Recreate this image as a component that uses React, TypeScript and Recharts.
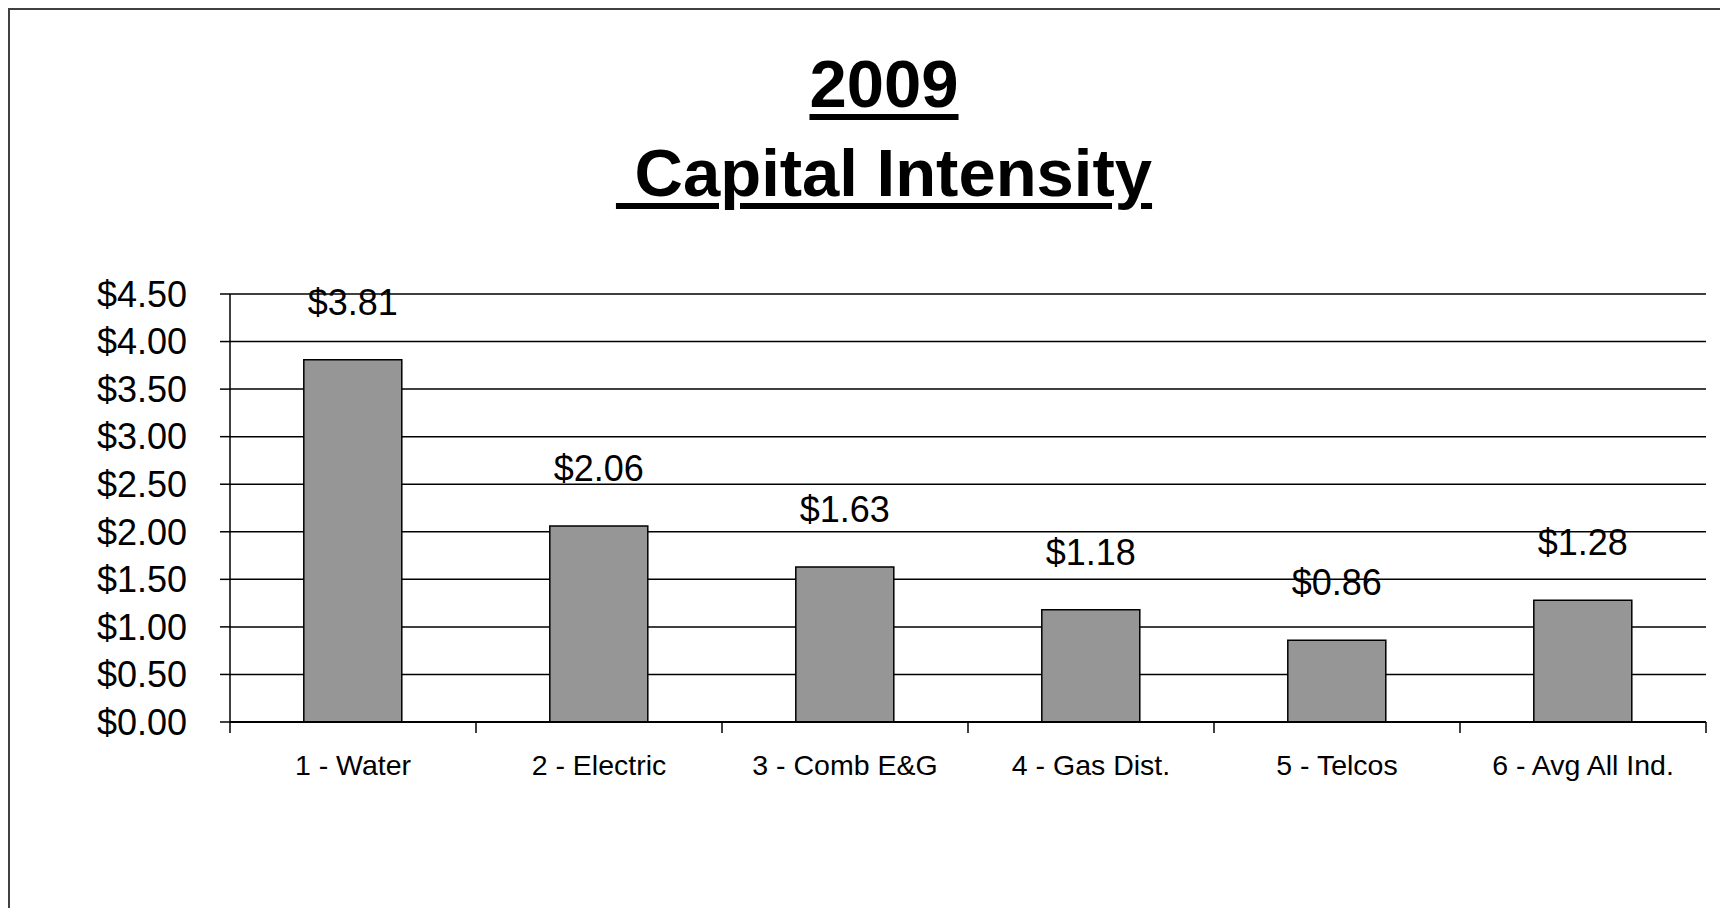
import React from "react";
import {
  BarChart,
  Bar,
  XAxis,
  YAxis,
  CartesianGrid,
  LabelList,
} from "recharts";

const categories = [
  "1 - Water",
  "2 - Electric",
  "3 - Comb E&G",
  "4 - Gas Dist.",
  "5 - Telcos",
  "6 - Avg All Ind.",
];
const values = [3.81, 2.06, 1.63, 1.18, 0.86, 1.28];
const yTicks = [0, 0.5, 1, 1.5, 2, 2.5, 3, 3.5, 4, 4.5];

const data = categories.map((name, i) => ({ name, value: values[i] }));

const FONT = "'Liberation Sans', Arial, sans-serif";
const money = (v: number) => `$${Number(v).toFixed(2)}`;

// Excel-style category axis: tick marks sit on the band edges, labels in the middle
const CategoryTick = (props: any) => {
  const { x, y, payload, index, width, visibleTicksCount } = props;
  const half = width / visibleTicksCount / 2;
  const last = index === visibleTicksCount - 1;
  return (
    <g>
      <line x1={x - half} x2={x - half} y1={y} y2={y + 11} stroke="#000" strokeWidth={1.5} />
      {last && (
        <line x1={x + half} x2={x + half} y1={y} y2={y + 11} stroke="#000" strokeWidth={1.5} />
      )}
      <text x={x} y={y + 53} textAnchor="middle" fontSize={28.5} fontFamily={FONT} fill="#000">
        {payload.value}
      </text>
    </g>
  );
};

export default function App() {
  return (
    <div
      style={{
        position: "relative",
        width: 1712,
        height: 900,
        borderTop: "2px solid #404040",
        borderLeft: "2px solid #404040",
        boxSizing: "border-box",
        overflow: "hidden",
        background: "#fff",
      }}
    >
      <BarChart
        width={1710}
        height={880}
        data={data}
        margin={{ top: 284, right: 14, bottom: 108, left: 20 }}
        barCategoryGap="30%"
      >
        <CartesianGrid vertical={false} stroke="#000" strokeWidth={1.5} />
        <XAxis
          dataKey="name"
          interval={0}
          height={60}
          tickSize={0}
          tickMargin={0}
          tickLine={false}
          axisLine={{ stroke: "#000", strokeWidth: 2 }}
          tick={<CategoryTick />}
        />
        <YAxis
          width={200}
          domain={[0, 4.5]}
          ticks={yTicks}
          interval={0}
          tickFormatter={money}
          tickSize={10}
          tickMargin={33}
          tickLine={{ stroke: "#000", strokeWidth: 1.5 }}
          axisLine={{ stroke: "#000", strokeWidth: 1.5 }}
          tick={{ fontSize: 36, fontFamily: FONT, fill: "#000" }}
        />
        <Bar
          dataKey="value"
          fill="#969696"
          stroke="#000"
          strokeWidth={1.5}
          isAnimationActive={false}
        >
          <LabelList
            dataKey="value"
            position="top"
            offset={45}
            formatter={(v: any) => money(v)}
            style={{ fontSize: 36, fontFamily: FONT, fill: "#000" }}
          />
        </Bar>
      </BarChart>
      <div
        style={{
          position: "absolute",
          left: 474,
          top: 29,
          width: 800,
          textAlign: "center",
          fontFamily: FONT,
          fontWeight: "bold",
          fontSize: 67,
          lineHeight: "89px",
          color: "#000",
          textDecoration: "underline",
          textDecorationThickness: 6,
          textUnderlineOffset: 7,
          whiteSpace: "pre",
        }}
      >
        <div>2009</div>
        <div>{" Capital Intensity"}</div>
      </div>
    </div>
  );
}
